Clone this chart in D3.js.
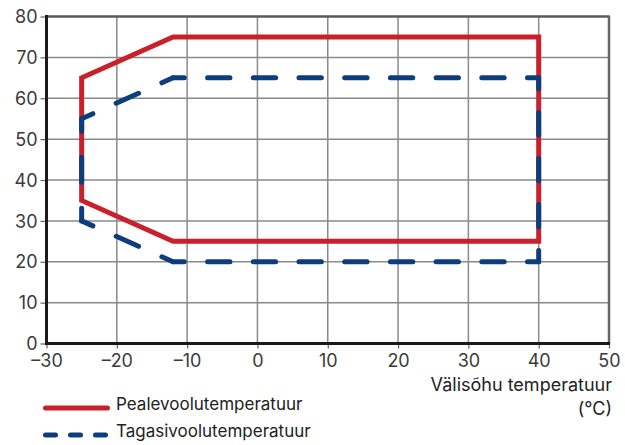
<!DOCTYPE html>
<html>
<head>
<meta charset="utf-8">
<script src="https://cdn.jsdelivr.net/npm/d3@7"></script>
<style>
  html, body { margin: 0; padding: 0; background: #fff; }
  svg { display: block; font-family: Inter, "Noto Sans", sans-serif; }
</style>
</head>
<body>
<svg id="chart" width="625" height="445"></svg>
<script>
// ---- data ----
const xTicks = [-30, -20, -10, 0, 10, 20, 30, 40, 50];
const yTicks = [0, 10, 20, 30, 40, 50, 60, 70, 80];
const supplyX = [-25, -25, -12, 40, 40, -12, -25];
const supplyY = [65, 35, 25, 25, 75, 75, 65];
const returnX = [-25, -25, -12, 40, 40, -12, -25];
const returnY = [55, 30, 20, 20, 65, 65, 55];
const seriesNames = ["Pealevoolutemperatuur", "Tagasivoolutemperatuur"];
const xTitle = ["Välisõhu temperatuur", "(°C)"];

// ---- layout ----
const svg = d3.select("#chart");
const m = { left: 46.5, right: 609, top: 16.5, bottom: 343.5 };
const x = d3.scaleLinear().domain([-30, 50]).range([m.left, m.right]);
const y = d3.scaleLinear().domain([0, 80]).range([m.bottom, m.top]);
const red = "#c9202b", blue = "#0d3d7d";
const fmt = d => (d < 0 ? "\u2013" + Math.abs(d) : String(d));

// grid
svg.append("g").selectAll("line").data(xTicks.slice(1, -1)).join("line")
  .attr("x1", d => x(d)).attr("x2", d => x(d))
  .attr("y1", m.top).attr("y2", m.bottom)
  .attr("stroke", "#8a8a8a").attr("stroke-width", 1.5);
svg.append("g").selectAll("line").data(yTicks.slice(1, -1)).join("line")
  .attr("x1", m.left).attr("x2", m.right)
  .attr("y1", d => y(d)).attr("y2", d => y(d))
  .attr("stroke", "#8a8a8a").attr("stroke-width", 1.5);

// frame top/right
svg.append("line").attr("x1", m.left).attr("x2", m.right).attr("y1", m.top).attr("y2", m.top)
  .attr("stroke", "#5a5a5a").attr("stroke-width", 2.5);
svg.append("line").attr("x1", m.right).attr("x2", m.right).attr("y1", m.top - 1).attr("y2", m.bottom)
  .attr("stroke", "#666").attr("stroke-width", 2.5);

// axes
const xAxis = d3.axisBottom(x).tickValues(xTicks).tickFormat(fmt).tickSize(5).tickPadding(6);
const yAxis = d3.axisLeft(y).tickValues(yTicks).tickSize(6).tickPadding(3);
const gx = svg.append("g").attr("transform", `translate(0,${m.bottom})`).call(xAxis);
const gy = svg.append("g").attr("transform", `translate(${m.left},0)`).call(yAxis);
[gx, gy].forEach(g => {
  g.select(".domain").remove();
  g.selectAll(".tick line").attr("stroke", "#666").attr("stroke-width", 1.2);
  g.selectAll(".tick text").attr("fill", "#3a3a3a").attr("font-size", 18).attr("font-family", "Inter, sans-serif");
});
gy.selectAll(".tick text").attr("dy", "0.34em");
gx.selectAll(".tick text").attr("dy", "0.72em");
svg.append("line").attr("x1", m.left).attr("x2", m.left).attr("y1", m.top - 1.5).attr("y2", m.bottom + 1.5)
  .attr("stroke", "#1a1a1a").attr("stroke-width", 3);
svg.append("line").attr("x1", m.left - 1.5).attr("x2", m.right + 1).attr("y1", m.bottom).attr("y2", m.bottom)
  .attr("stroke", "#1a1a1a").attr("stroke-width", 3);

// red solid polygon
const line = d3.line().x(d => x(d[0])).y(d => y(d[1]));
const supply = supplyX.map((v, i) => [v, supplyY[i]]);
svg.append("path").attr("d", line(supply) + "Z")
  .attr("fill", "none").attr("stroke", red).attr("stroke-width", 5).attr("stroke-linejoin", "miter");

// blue dashed polygon, segment by segment with dashes centred on corners
const ret = returnX.map((v, i) => [v, returnY[i]]);
const P = 47, dashFrac = 23 / 47;
for (let i = 0; i < ret.length - 1; i++) {
  const a = ret[i], b = ret[i + 1];
  const L = Math.hypot(x(b[0]) - x(a[0]), y(b[1]) - y(a[1]));
  const n = Math.max(1, Math.round(L / P));
  const p = L / n, dd = p * dashFrac, gg = p - dd;
  svg.append("path").attr("d", line([a, b]))
    .attr("fill", "none").attr("stroke", blue).attr("stroke-width", 5)
    .attr("stroke-linecap", "round")
    .attr("stroke-dasharray", `${dd} ${gg}`)
    .attr("stroke-dashoffset", dd / 2);
}

// x title
svg.append("text").attr("x", 612).attr("y", 391).attr("text-anchor", "end")
  .attr("font-size", 18).attr("fill", "#222").text(xTitle[0]);
svg.append("text").attr("x", 612).attr("y", 415).attr("text-anchor", "end")
  .attr("font-size", 18).attr("fill", "#222").text(xTitle[1]);

// legend
const leg = svg.append("g");
leg.append("line").attr("x1", 45.5).attr("x2", 107.5).attr("y1", 408).attr("y2", 408)
  .attr("stroke", red).attr("stroke-width", 5).attr("stroke-linecap", "round");
leg.append("line").attr("x1", 45.5).attr("x2", 107.5).attr("y1", 435).attr("y2", 435)
  .attr("stroke", blue).attr("stroke-width", 5).attr("stroke-linecap", "round")
  .attr("stroke-dasharray", "10 15");
leg.selectAll("text").data(seriesNames).join("text")
  .attr("x", 116).attr("y", (d, i) => 410 + i * 27)
  .attr("font-size", 17).attr("fill", "#222").text(d => d);
</script>
</body>
</html>
